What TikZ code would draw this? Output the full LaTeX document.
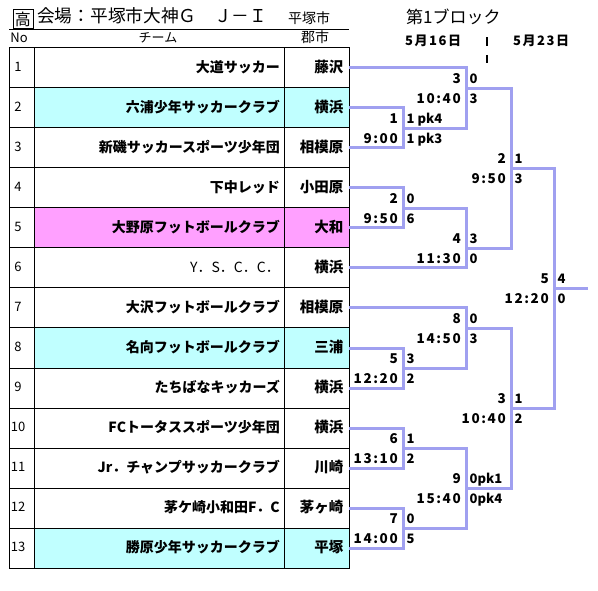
\documentclass[tikz,border=0pt]{standalone}
\usepackage{fontspec}
\setmainfont{Noto Sans CJK JP}
\newfontfamily\numf[LetterSpace=12]{Noto Sans CJK JP}
\definecolor{brk}{RGB}{160,160,240}
\definecolor{cyanrow}{RGB}{192,255,255}
\definecolor{pinkrow}{RGB}{255,160,255}
\tikzset{
  txt/.style={inner sep=0pt, text height=0.88em, text depth=0.12em},
  tname/.style={txt, anchor=east, font=\fontsize{14}{14}\selectfont\bfseries},
  tcity/.style={txt, anchor=east, font=\fontsize{14.5}{14.5}\selectfont\bfseries},
  tno/.style={txt, font=\fontsize{13}{13}\selectfont},
  hdr/.style={txt, font=\fontsize{13}{13}\selectfont},
  brline/.style={draw=brk, line width=3pt, line join=miter},
  mnum/.style={txt, anchor=east, font=\numf\fontsize{13.5}{13.5}\selectfont\bfseries},
  msc/.style={txt, anchor=west, font=\fontsize{13}{13}\selectfont\bfseries},
  grid/.style={draw=black, line width=1pt}
}
\newcommand{\match}[7]{%
  % #1 name, #2 x, #3 y, #4 number, #5 time, #6 upper score, #7 lower score
  \coordinate (#1) at (#2,#3);
  \node[mnum] (#1n) at (#2-5,#3-8.5) {#4};
  \node[mnum] (#1t) at (#2-5,#3+11.5) {#5};
  \node[msc] (#1a) at (#2+3.5,#3-8.5) {#6};
  \node[msc] (#1b) at (#2+3.5,#3+11.5) {#7};
}
\begin{document}
\begin{tikzpicture}[x=1pt,y=-1pt]
\useasboundingbox (0,0) rectangle (598,591);
\fill[white] (0,0) rectangle (598,591);

% title
\node[draw=black, line width=1pt, minimum width=20pt, minimum height=19pt, inner sep=0pt,
      font=\fontsize{16}{16}\selectfont] (kou) at (23,19) {高};
\node[txt, anchor=west, font=\fontsize{17.7}{17.7}\selectfont] (venue) at (37,19) {会場：平塚市大神Ｇ　Ｊ－Ｉ};
\node[txt, anchor=west, font=\fontsize{14}{14}\selectfont] (vcity) at (288,20) {平塚市};
\draw[grid] (9,29.5) -- (349,29.5);
\node[hdr] (hno) at (19,38.5) {No};
\node[hdr] (hteam) at (158,38.5) {チーム};
\node[hdr, font=\fontsize{14}{14}\selectfont] (hcity) at (315,38.5) {郡市};

\node[txt, anchor=west, font=\fontsize{17}{17}\selectfont] (block) at (406,19.5) {第1ブロック};
\node[txt, anchor=west, font=\numf\fontsize{13}{13}\selectfont\bfseries] (d1) at (405,41.5) {5月16日};
\node[txt, anchor=west, font=\numf\fontsize{13}{13}\selectfont\bfseries] (d2) at (513,41.5) {5月23日};
\draw[black, line width=2pt] (487,37.5) -- (487,46.5);
\draw[black, line width=2pt] (487,55) -- (487,63);

% table rows
\foreach \i/\nm/\ct/\cl/\wt in {
  1/大道サッカー/藤沢/white/\bfseries,
  2/六浦少年サッカークラブ/横浜/cyanrow/\bfseries,
  3/新磯サッカースポーツ少年団/相模原/white/\bfseries,
  4/下中レッド/小田原/white/\bfseries,
  5/大野原フットボールクラブ/大和/pinkrow/\bfseries,
  6/Y．S．C．C．/横浜/white/\mdseries,
  7/大沢フットボールクラブ/相模原/white/\bfseries,
  8/名向フットボールクラブ/三浦/cyanrow/\bfseries,
  9/たちばなキッカーズ/横浜/white/\bfseries,
  10/FCトータススポーツ少年団/横浜/white/\bfseries,
  11/Jr．チャンプサッカークラブ/川崎/white/\bfseries,
  12/茅ケ崎小和田F．C/茅ヶ崎/white/\bfseries,
  13/勝原少年サッカークラブ/平塚/cyanrow/\bfseries}{
  \pgfmathsetmacro\rt{48+40*(\i-1)}
  \fill[\cl] (34,\rt) rectangle (349,\rt+40);
  \node[tno] (no\i) at (18,\rt+20) {\i};
  \node[tname, font=\fontsize{14}{14}\selectfont\wt] (nm\i) at (280,\rt+20.5) {\nm};
  \node[tcity] (ct\i) at (343.5,\rt+20.5) {\ct};
  \coordinate (t\i) at (349,\rt+20);
}
\draw[grid] (9,48) rectangle (349,568);
\draw[grid] (34,48) -- (34,568);
\draw[grid] (284,48) -- (284,568);
\foreach \k in {1,...,12}{
  \draw[grid] (9,48+40*\k) -- (349,48+40*\k);
}

% matches
\match{mA}{403}{128.3}{1}{9:00}{1 pk4}{1 pk3}
\match{mB}{466}{88.3}{3}{10:40}{0}{3}
\match{mC}{403}{208.3}{2}{9:50}{0}{6}
\match{mD}{466}{248.3}{4}{11:30}{3}{0}
\match{mE}{511}{168.3}{2}{9:50}{1}{3}
\match{mF}{403}{368.3}{5}{12:20}{3}{2}
\match{mG}{466}{328.3}{8}{14:50}{0}{3}
\match{mH}{403}{448.3}{6}{13:10}{1}{2}
\match{mI}{403}{528.3}{7}{14:00}{0}{5}
\match{mJ}{466}{488.3}{9}{15:40}{0pk1}{0pk4}
\match{mK}{511}{408.3}{3}{10:40}{1}{2}
\match{mL}{554}{288.3}{5}{12:20}{4}{0}
\coordinate (fin) at (588,288.3);

\draw[brline] (t2) -| (mA) |- (t3);
\draw[brline] (t1) -| (mB) |- (mA);
\draw[brline] (t4) -| (mC) |- (t5);
\draw[brline] (mC) -| (mD) |- (t6);
\draw[brline] (mB) -| (mE) |- (mD);
\draw[brline] (t8) -| (mF) |- (t9);
\draw[brline] (t7) -| (mG) |- (mF);
\draw[brline] (t10) -| (mH) |- (t11);
\draw[brline] (t12) -| (mI) |- (t13);
\draw[brline] (mH) -| (mJ) |- (mI);
\draw[brline] (mG) -| (mK) |- (mJ);
\draw[brline] (mE) -| (mL) |- (mK);
\draw[brline] (mL) -- (fin);
\end{tikzpicture}
\end{document}
